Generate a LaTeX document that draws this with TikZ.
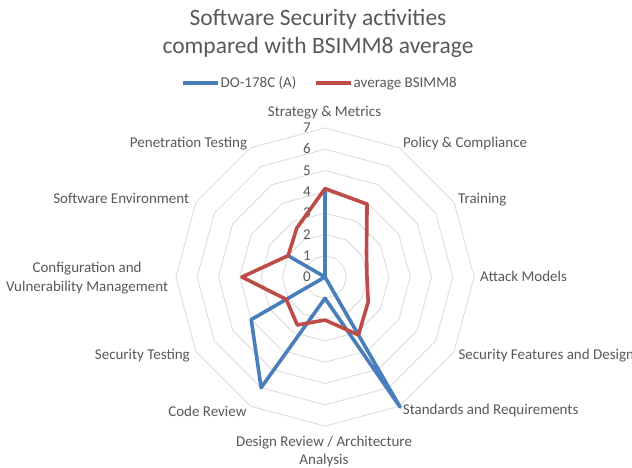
\documentclass[tikz,border=0pt]{standalone}
\usepackage{fontspec}
\setmainfont{Carlito}
\definecolor{txt}{HTML}{595959}
\definecolor{gridc}{HTML}{D9D9D9}
\definecolor{doblue}{HTML}{4A7EBB}
\definecolor{bsred}{HTML}{BE4B48}
\begin{document}
\begin{tikzpicture}[x=1bp,y=-1bp,
  lbl/.style={text=txt,font=\fontsize{15bp}{18.3bp}\selectfont,inner sep=0pt},
  ttl/.style={text=txt,font=\fontsize{23.5bp}{28bp}\selectfont,inner sep=0pt},
  gridline/.style={draw=gridc,line width=0.8bp},
  series/.style={line width=3.6bp,line join=round,line cap=round},
  key/.style={line width=3.6bp},
]
% canvas
\path[fill=white,use as bounding box] (0,0) rectangle (632,468);

% chart centre and one scale unit
\def\cx{325}\def\cy{277}\def\u{21.3}

% concentric twelve-sided grid rings, values 1 to 7
\foreach \k in {1,...,7}{
  \draw[gridline] ({\cx},{\cy-\u*\k})
    \foreach \i in {1,...,11}{ -- ({\cx+\u*\k*sin(30*\i)},{\cy-\u*\k*cos(30*\i)}) } -- cycle;
}

% scale values along the top axis
\foreach \k in {0,...,7}{
  \node[lbl,anchor=base] (s\k) at (307,{\cy-\u*\k+4.8}) {\k};
}

% series data, one value per axis, clockwise from the top
\foreach \v [count=\i from 0] in {4.15,0,0,0,0,7.05,1,6,4,0,2,0}{
  \coordinate (b\i) at ({\cx+\u*\v*sin(30*\i)},{\cy-\u*\v*cos(30*\i)});
}
\foreach \v [count=\i from 0] in {4.15,3.95,2.25,1.97,2.34,3.14,2.02,2.6,2.1,3.9,2.0,2.65}{
  \coordinate (r\i) at ({\cx+\u*\v*sin(30*\i)},{\cy-\u*\v*cos(30*\i)});
}
\draw[series,doblue] (b0) -- (b1) -- (b2) -- (b3) -- (b4) -- (b5) -- (b6)
  -- (b7) -- (b8) -- (b9) -- (b10) -- (b11) -- cycle;
\draw[series,bsred] (r0) -- (r1) -- (r2) -- (r3) -- (r4) -- (r5) -- (r6)
  -- (r7) -- (r8) -- (r9) -- (r10) -- (r11) -- cycle;

% axis category labels
\node[lbl,anchor=base] (a0) at (324.5,116.8) {Strategy \& Metrics};
\node[lbl,anchor=base west] (a1) at (403,147.8) {Policy \& Compliance};
\node[lbl,anchor=base west] (a2) at (458,203.8) {Training};
\node[lbl,anchor=base west] (a3) at (480,281.8) {Attack Models};
\node[lbl,anchor=base west] (a4) at (458.3,359.8) {Security Features and Design};
\node[lbl,anchor=base west] (a5) at (402.7,414.8) {Standards and Requirements};
\node[lbl,align=center,anchor=center] (a6) at (324,451.5) {Design Review / Architecture\\Analysis};
\node[lbl,anchor=base east] (a7) at (246.7,416.5) {Code Review};
\node[lbl,anchor=base east] (a8) at (190,359.8) {Security Testing};
\node[lbl,align=center,anchor=east] (a9) at (168.3,278) {Configuration and\\Vulnerability Management};
\node[lbl,anchor=base east] (a10) at (189.3,203.8) {Software Environment};
\node[lbl,anchor=base east] (a11) at (247.3,147.5) {Penetration Testing};

% title
\node[ttl,anchor=base] (t1) at (318,26) {Software Security activities};
\node[ttl,anchor=base] (t2) at (318,53.5) {compared with BSIMM8 average};

% legend
\coordinate (k1a) at (183,83); \coordinate (k1b) at (218,83);
\coordinate (k2a) at (316,83); \coordinate (k2b) at (351,83);
\draw[key,doblue] (k1a) -- (k1b);
\draw[key,bsred] (k2a) -- (k2b);
\node[lbl,anchor=base west] (l1) at (220.5,87.8) {DO-178C (A)};
\node[lbl,anchor=base west] (l2) at (353.5,87.8) {average BSIMM8};
\end{tikzpicture}
\end{document}
